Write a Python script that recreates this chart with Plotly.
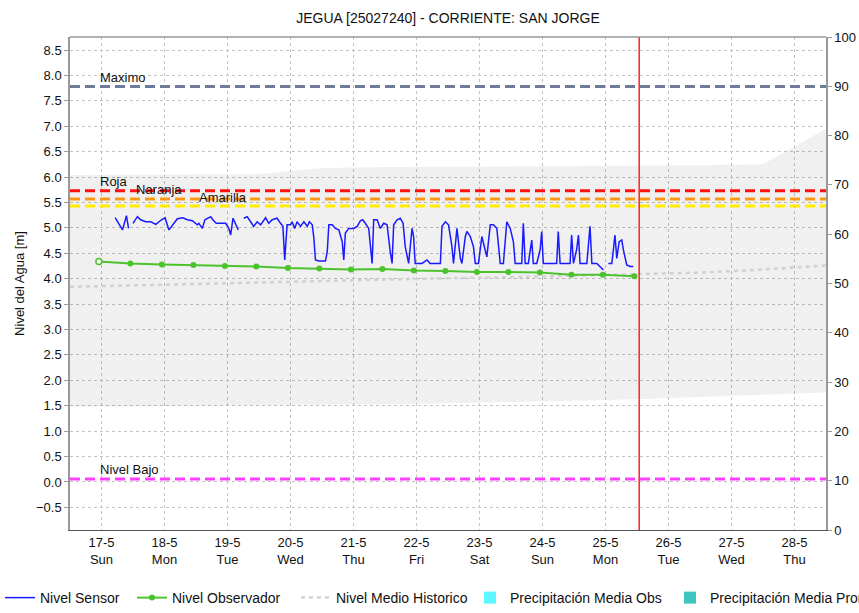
import plotly.graph_objects as go
import pandas as pd

# ---------------- DATA ----------------
title_text = "JEGUA [25027240] - CORRIENTE: SAN JORGE"
y_title = "Nivel del Agua [m]"
sensor_base = "2020-05-17 00:00"

# Nivel Sensor: hours after 17-5 00:00 and level [m] (None = gap)
sensor_hours = [5.2, 8.0, 9.5, 10.3, 11.1, 12.0, 13.7, 14.9, 16.8, 18.8, 20.7, 22.6, 24.2, 25.7,
                27.0, 28.9, 31.0, 32.7, 34.6, 36.5, 37.1, 38.4, 39.4, 40.3, 41.6, 42.4, 43.7, 45.4,
                47.3, 48.5, 49.2, 50.1, 51.1, 52.1, 53.0, 54.2, 55.5, 56.8, 58.0, 59.3, 60.6, 62.5,
                63.7, 65.0, 66.9, 68.2, 69.1, 69.8, 70.4, 70.7, 72.0, 72.6, 73.6, 74.5, 75.8, 77.1,
                78.4, 79.2, 80.3, 80.9, 81.5, 82.8, 85.3, 86.0, 86.6, 87.9, 89.1, 90.4, 91.7, 92.3,
                92.9, 94.2, 96.1, 97.4, 98.6, 99.5, 100.5, 101.8, 103.1, 103.7, 105.0, 106.2, 107.5,
                108.8, 110.0, 110.7, 111.3, 112.6, 113.8, 114.9, 115.7, 117.0, 118.3, 118.9, 119.5,
                120.8, 122.1, 124.0, 125.2, 127.8, 129.1, 129.7, 131.0, 132.2, 133.5, 134.1, 135.4,
                136.7, 137.3, 138.6, 139.2, 140.5, 141.7, 142.4, 143.6, 144.9, 146.8, 148.1, 149.3,
                150.6, 151.9, 153.1, 154.4, 155.7, 156.9, 157.6, 158.8, 160.1, 160.7, 161.4, 162.6,
                163.9, 164.5, 165.8, 167.1, 167.7, 168.3, 169.6, 172.1, 173.4, 174.0, 174.7, 177.2,
                178.5, 179.1, 179.8, 181.0, 181.7, 182.3, 184.9, 186.1, 186.8, 188.7, 189.9, 191.2,
                192.0, 193.1, 194.4, 195.0, 195.6, 196.3, 197.2, 198.2, 198.8, 200.1, 201.4, 202.6]
sensor_level = [5.20, 4.96, 5.24, 4.99, None, 5.09, 5.22, 5.16, 5.12, 5.12, 5.07, 5.15, 5.20, 4.96,
                5.06, 5.18, 5.20, 5.16, 5.14, 5.06, 5.09, 4.99, 5.16, 5.19, 5.22, 5.16, 5.09, 5.09,
                5.09, 4.99, 4.86, 5.19, 5.06, 4.96, None, 5.19, 5.22, 5.12, 5.03, 5.12, 5.06, 5.20,
                5.09, 5.16, 5.19, 5.09, 5.03, 4.37, 4.96, 5.06, 5.06, 5.12, 4.99, 5.12, 5.03, 5.12,
                5.03, 5.12, 5.06, 4.80, 4.37, 4.35, 4.35, 4.53, 5.06, 5.06, 4.99, 4.96, 4.73, 4.37,
                4.90, 4.99, 4.99, 5.03, 5.14, 5.16, 5.09, 4.99, 4.30, 5.16, 5.16, 4.99, 5.09,
                5.06, 4.53, 4.30, 5.06, 5.16, 5.19, 5.09, 4.63, 4.30, 4.99, 4.83, 4.30,
                4.30, 4.30, 4.37, 4.30, 4.30, 4.30, 5.03, 5.12, 5.06, 4.63, 4.30, 4.99,
                4.40, 4.30, 4.83, 4.93, 4.83, 4.63, 4.30, 4.30, 4.83, 4.43, 5.06, 5.06,
                4.99, 4.30, 4.30, 5.12, 4.99, 4.73, 4.30, 4.30, 4.30, 5.09, 4.30, 4.30,
                4.76, 4.30, 4.30, 4.57, 4.93, 4.30, 4.30, 4.30, 4.30, 4.93, 4.30, 4.30,
                4.30, 4.86, 4.30, 4.57, 4.86, 4.30, 4.30, 5.03, 4.30, 4.30, 4.24, 4.17,
                None, 4.30, 4.30, 4.57, 4.86, 4.40, 4.73, 4.76, 4.57, 4.27, 4.24, 4.24]

# Nivel Observador
obs_times = ["2020-05-16 23:00", "2020-05-17 11:00", "2020-05-17 23:00", "2020-05-18 11:00",
             "2020-05-18 23:00", "2020-05-19 11:00", "2020-05-19 23:00", "2020-05-20 11:00",
             "2020-05-20 23:00", "2020-05-21 11:00", "2020-05-21 23:00", "2020-05-22 11:00",
             "2020-05-22 23:00", "2020-05-23 11:00", "2020-05-23 23:00", "2020-05-24 11:00",
             "2020-05-24 23:00", "2020-05-25 11:00"]
obs_level = [4.34, 4.30, 4.28, 4.27, 4.25, 4.24, 4.21, 4.20, 4.18,
             4.19, 4.16, 4.15, 4.13, 4.13, 4.12, 4.08, 4.08, 4.05]

# Historic statistics (daily)
hist_times = ["2020-05-16 12:00", "2020-05-17 12:00", "2020-05-18 12:00", "2020-05-19 12:00",
              "2020-05-20 12:00", "2020-05-21 12:00", "2020-05-22 12:00", "2020-05-23 12:00",
              "2020-05-24 12:00", "2020-05-25 12:00", "2020-05-26 12:00", "2020-05-27 12:00",
              "2020-05-28 12:00"]
hist_mean = [3.84, 3.87, 3.90, 3.93, 3.95, 3.98, 4.01, 4.03, 4.06, 4.08, 4.12, 4.18, 4.26]
hist_min = [1.48, 1.49, 1.50, 1.50, 1.52, 1.53, 1.55, 1.57, 1.60, 1.63, 1.67, 1.72, 1.76]
hist_max = [6.04, 6.04, 6.05, 6.06, 6.18, 6.20, 6.20, 6.21, 6.22, 6.22, 6.23, 6.25, 6.95]

# Precipitation (zero in window)
precip_obs_times = ["2020-05-25 00:00"]
precip_obs = [0.0]
precip_pron_times = ["2020-05-26 00:00"]
precip_pron = [0.0]

# Threshold levels
threshold_names = ["Maximo", "Roja", "Naranja", "Amarilla", "Nivel Bajo"]
threshold_values = [7.78, 5.73, 5.57, 5.43, 0.06]
threshold_label_times = ["2020-05-17 00:00", "2020-05-17 00:00", "2020-05-17 14:00",
                         "2020-05-18 14:00", "2020-05-17 00:00"]

now_time = "2020-05-25 12:50"

tick_dates = ["2020-05-17", "2020-05-18", "2020-05-19", "2020-05-20", "2020-05-21", "2020-05-22",
              "2020-05-23", "2020-05-24", "2020-05-25", "2020-05-26", "2020-05-27", "2020-05-28"]
tick_days = ["17-5", "18-5", "19-5", "20-5", "21-5", "22-5", "23-5", "24-5", "25-5", "26-5", "27-5", "28-5"]
tick_weekdays = ["Sun", "Mon", "Tue", "Wed", "Thu", "Fri", "Sat", "Sun", "Mon", "Tue", "Wed", "Thu"]

left_ticks = [-0.5, 0.0, 0.5, 1.0, 1.5, 2.0, 2.5, 3.0, 3.5, 4.0, 4.5, 5.0, 5.5, 6.0, 6.5, 7.0, 7.5, 8.0, 8.5]
right_ticks = [0, 10, 20, 30, 40, 50, 60, 70, 80, 90, 100]

x_range = ["2020-05-16 12:00", "2020-05-28 12:00"]
y_range = [-0.945, 8.756]
y2_range = [0, 100]

# ---------------- STYLE ----------------
FONT = "Liberation Sans, Arial, sans-serif"
threshold_colors = ["#6e7b9c", "#ff1010", "#ff9a10", "#ffec00", "#ff40ff"]
grid_col = "#c4c4c4"
green = "#4cc32c"

sensor_x = [pd.Timestamp(sensor_base) + pd.Timedelta(hours=h) for h in sensor_hours]

fig = go.Figure()

# historic range band
fig.add_trace(go.Scatter(x=pd.to_datetime(hist_times), y=hist_min, mode="lines",
                         line=dict(width=0), showlegend=False, hoverinfo="skip"))
fig.add_trace(go.Scatter(x=pd.to_datetime(hist_times), y=hist_max, mode="lines",
                         line=dict(width=0), fill="tonexty", fillcolor="rgba(0,0,0,0.06)",
                         showlegend=False, hoverinfo="skip"))

fig.add_trace(go.Scatter(x=pd.to_datetime(hist_times), y=hist_mean, mode="lines",
                         name="Nivel Medio Historico",
                         line=dict(color="#d2d2d2", width=2.5, dash="4px,4px"),
                         legend="legend3"))

fig.add_trace(go.Scatter(x=pd.to_datetime(obs_times), y=obs_level, mode="lines+markers",
                         name="Nivel Observador",
                         line=dict(color=green, width=2),
                         marker=dict(size=6, color=green, symbol="circle"),
                         legend="legend2"))
# first observation drawn hollow
fig.add_trace(go.Scatter(x=pd.to_datetime(obs_times[:1]), y=obs_level[:1], mode="markers",
                         marker=dict(size=6, color="white", symbol="circle",
                                     line=dict(color=green, width=1.5)),
                         showlegend=False, hoverinfo="skip"))

fig.add_trace(go.Scatter(x=sensor_x, y=sensor_level, mode="lines", name="Nivel Sensor",
                         line=dict(color="#1a1aff", width=1.5), connectgaps=False,
                         legend="legend"))

fig.add_trace(go.Bar(x=pd.to_datetime(precip_obs_times), y=precip_obs, name="Precipitación Media Obs",
                     marker=dict(color="#5ff7ff", line=dict(width=0)), yaxis="y2", legend="legend4"))
fig.add_trace(go.Bar(x=pd.to_datetime(precip_pron_times), y=precip_pron,
                     name="Precipitación Media Pronosticada",
                     marker=dict(color="#3fc4c0", line=dict(width=0)), yaxis="y2", legend="legend5"))

# threshold lines + labels
for name, val, col, lt in zip(threshold_names, threshold_values, threshold_colors, threshold_label_times):
    fig.add_shape(type="line", xref="paper", x0=0, x1=1, yref="y", y0=val, y1=val,
                  line=dict(color=col, width=3, dash="10px,5px"))
    fig.add_annotation(x=lt, y=val, xref="x", yref="y", text=name, showarrow=False,
                       xanchor="left", yanchor="middle", yshift=9, xshift=-4,
                       font=dict(family=FONT, size=13, color="#111"))

# now line
fig.add_shape(type="line", xref="x", x0=now_time, x1=now_time, yref="paper", y0=0, y1=1,
              line=dict(color="#ff2020", width=1.5))

tick_text = [f"{d}<br>{w}" for d, w in zip(tick_days, tick_weekdays)]

legend_x_px = [0, 132, 296, 470, 670]
legend_common = dict(orientation="h", y=-0.1055, yanchor="top", xanchor="left",
                     bgcolor="rgba(0,0,0,0)", itemwidth=30,
                     font=dict(family=FONT, size=14, color="#111"))
legends = {}
for i, px in enumerate(legend_x_px):
    key = "legend" if i == 0 else f"legend{i+1}"
    legends[key] = dict(legend_common, x=(px - 70) / 756)

fig.update_layout(
    width=859, height=613,
    margin=dict(l=70, r=33, t=37, b=83, autoexpand=False),
    paper_bgcolor="white", plot_bgcolor="white",
    font=dict(family=FONT, size=13, color="#111"),
    title=dict(text=title_text, x=(448) / 859, xanchor="center", y=1 - 18 / 613, yanchor="middle",
               font=dict(family=FONT, size=14, color="#111")),
    showlegend=True,
    bargap=0,
    xaxis=dict(type="date", range=x_range, tickvals=tick_dates, ticktext=tick_text,
               showgrid=True, gridcolor=grid_col, griddash="dot", gridwidth=1,
               showline=True, linecolor="#555", linewidth=1, mirror=False,
               ticks="", tickfont=dict(family=FONT, size=13, color="#111"), zeroline=False),
    yaxis=dict(range=y_range, tickvals=left_ticks, tickformat=".1f",
               showgrid=True, gridcolor=grid_col, griddash="dot", gridwidth=1,
               showline=True, linecolor="#999", linewidth=1.5,
               ticks="outside", ticklen=4, tickcolor="#999",
               tickfont=dict(family=FONT, size=13, color="#111"), zeroline=False,
               title=dict(text=y_title, standoff=8, font=dict(family=FONT, size=13, color="#111"))),
    yaxis2=dict(range=y2_range, tickvals=right_ticks, overlaying="y", side="right",
                showgrid=False, showline=True, linecolor="#999", linewidth=1.5,
                ticks="outside", ticklen=4, tickcolor="#999",
                tickfont=dict(family=FONT, size=13, color="#111"), zeroline=False),
    **legends,
)
# top border
fig.add_shape(type="line", xref="paper", yref="paper", x0=0, x1=1, y0=1, y1=1,
              line=dict(color="#999", width=1.5))

fig.write_html("out.html", config={"displayModeBar": False},
               post_script="document.body.style.margin='0';document.body.style.padding='0';"
                           "document.documentElement.style.overflow='hidden';")
